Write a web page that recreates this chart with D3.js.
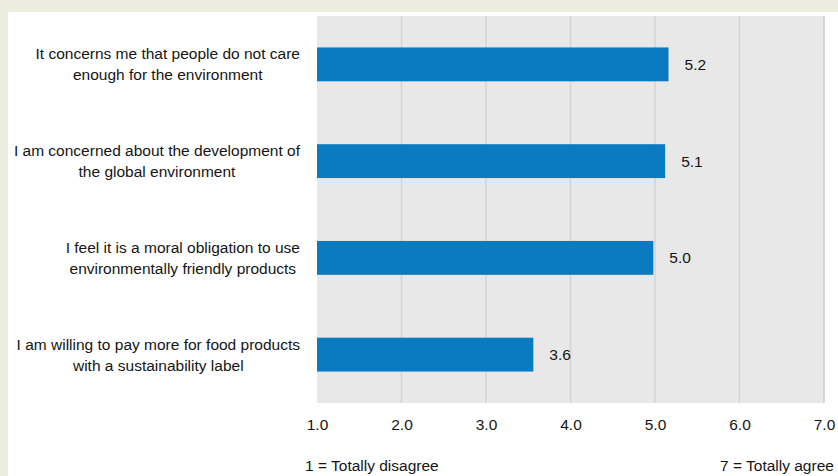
<!DOCTYPE html>
<html>
<head>
<meta charset="utf-8">
<script src="https://cdn.jsdelivr.net/npm/d3@7"></script>
<style>
  body { margin: 0; background: #ecebe0; }
  svg { display: block; font-family: "Liberation Sans", Arial, sans-serif; }
</style>
</head>
<body>
<div id="chart"></div>
<script>
// statements (each label split into its two lines)
const statements = [
    ["It concerns me that people do not care", "enough for the environment"],
    ["I am concerned about the development of", "the global environment"],
    ["I feel it is a moral obligation to use", "environmentally friendly products"],
    ["I am willing to pay more for food products", "with a sustainability label"]
];
const scores = [5.16, 5.12, 4.98, 3.56];
const ticks = [1, 2, 3, 4, 5, 6, 7];
const scaleNotes = ["1 = Totally disagree", "7 = Totally agree"];

const W = 838, H = 476;
const margin = {top: 16, right: 14, bottom: 73, left: 317};
const width = W - margin.left - margin.right;
const height = H - margin.top - margin.bottom;
const fs = 15.5, ink = "#151515";

const svg = d3.select("#chart").append("svg")
    .attr("width", W)
    .attr("height", H);

// white panel on beige
svg.append("rect")
    .attr("x", 8).attr("y", 12)
    .attr("width", W - 8).attr("height", H - 12)
    .attr("fill", "#ffffff");

const g = svg.append("g")
    .attr("transform", `translate(${margin.left},${margin.top})`);

// scales
const x = d3.scaleLinear().domain([1, 7]).range([0, width]);
const y = d3.scaleBand()
    .domain(d3.range(statements.length))
    .range([0, height])
    .paddingInner(0.65)
    .paddingOuter(0.325);

// plot background
g.append("rect")
    .attr("width", width).attr("height", height)
    .attr("fill", "#e8e8e8");

// gridlines
g.append("g").selectAll("line")
    .data(ticks.slice(1))
    .join("line")
    .attr("x1", d => x(d)).attr("x2", d => x(d))
    .attr("y1", 0).attr("y2", height)
    .attr("stroke", d => d === 7 ? "#cccccc" : "#d4d4d4")
    .attr("stroke-width", 1.5);

// bars
g.selectAll(".bar")
    .data(scores)
    .join("rect")
    .attr("class", "bar")
    .attr("x", x(1))
    .attr("y", (d, i) => y(i))
    .attr("width", d => x(d) - x(1))
    .attr("height", y.bandwidth())
    .attr("fill", "#0a7bc1");

// value labels
g.selectAll(".val")
    .data(scores)
    .join("text")
    .attr("class", "val")
    .attr("x", d => x(d) + 16)
    .attr("y", (d, i) => y(i) + y.bandwidth() / 2)
    .attr("dy", "0.35em")
    .attr("font-size", fs)
    .attr("fill", ink)
    .text(d => d3.format(".1f")(d));

// x axis tick labels
const xAxis = d3.axisBottom(x)
    .tickValues(ticks)
    .tickFormat(d3.format(".1f"))
    .tickSize(0)
    .tickPadding(16);

g.append("g")
    .attr("class", "x-axis")
    .attr("transform", `translate(0,${height})`)
    .call(xAxis)
    .call(a => a.select(".domain").remove())
    .selectAll("text")
    .attr("font-size", fs)
    .attr("font-family", "Liberation Sans, Arial, sans-serif")
    .attr("fill", ink);

// category labels: centred block, right edge at 300
const labels = svg.append("g");
statements.forEach((lines, i) => {
    const cy = margin.top + y(i) + y.bandwidth() / 2;
    const t = labels.append("text")
        .attr("font-size", fs)
        .attr("fill", ink)
        .attr("text-anchor", "middle");
    const spans = lines.map((s, j) => t.append("tspan")
        .attr("y", cy + (j - 0.5) * 21)
        .attr("dy", "0.35em")
        .text(s));
    const maxW = d3.max(spans, s => s.node().getComputedTextLength());
    spans.forEach(s => s.attr("x", 300 - maxW / 2));
});

// scale notes
svg.append("text")
    .attr("x", 305).attr("y", 471)
    .attr("font-size", fs).attr("fill", ink)
    .text(scaleNotes[0]);
svg.append("text")
    .attr("x", 720).attr("y", 471)
    .attr("font-size", fs).attr("fill", ink)
    .text(scaleNotes[1]);
</script>
</body>
</html>
